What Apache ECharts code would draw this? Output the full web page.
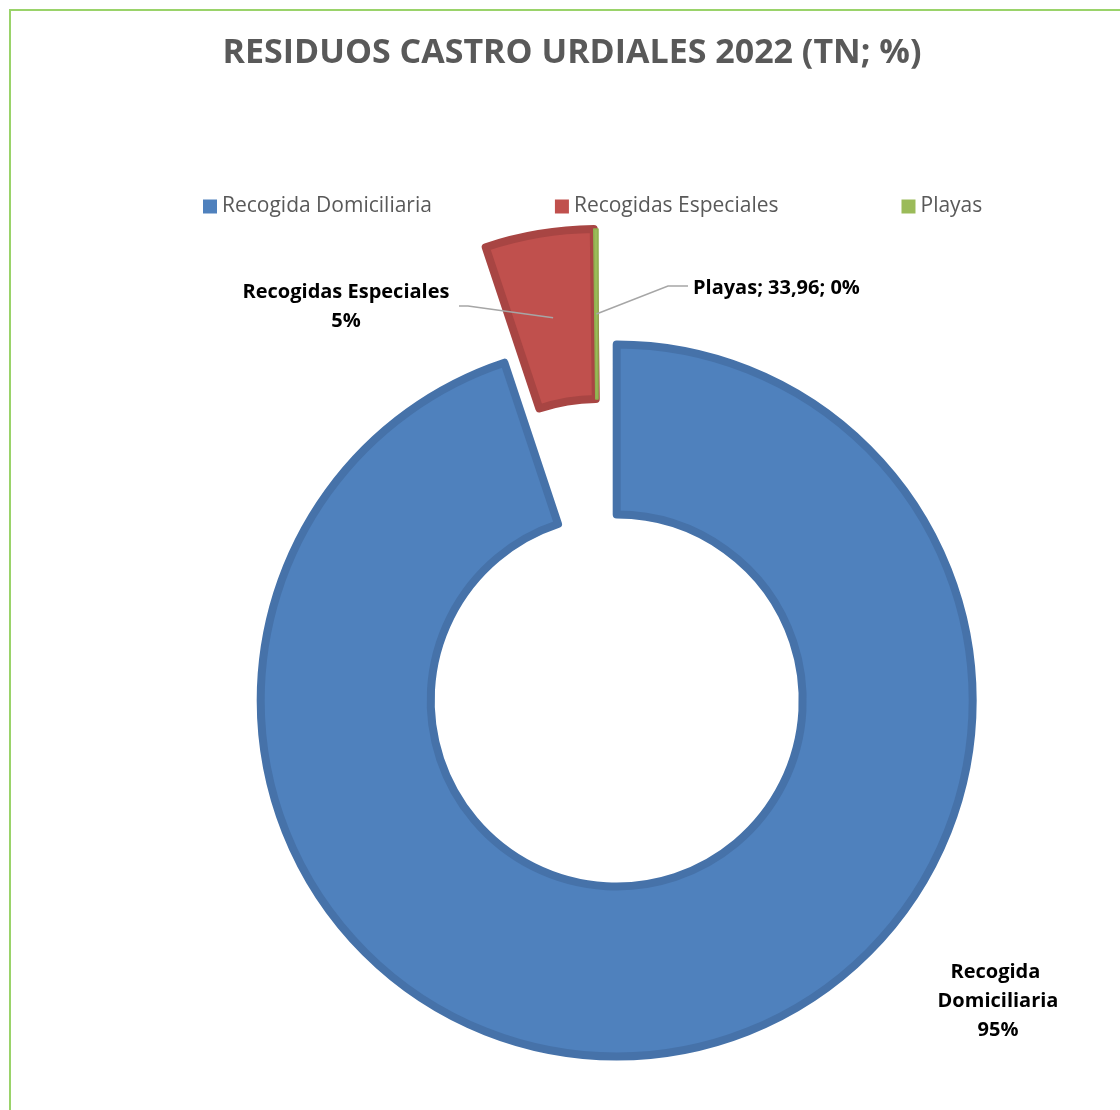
<!DOCTYPE html>
<html>
<head>
<meta charset="utf-8">
<script src="https://cdn.jsdelivr.net/npm/echarts@6/dist/echarts.min.js"></script>
<style>
  html, body { margin: 0; padding: 0; background: #ffffff; }
  #frame { position: absolute; left: 9px; top: 9px; width: 1120px; height: 1110px;
           border-left: 2px solid #9ad36a; border-top: 2px solid #9ad36a; }
  #chart { position: absolute; left: 0; top: 0; width: 1120px; height: 1110px; }
</style>
</head>
<body>
<div id="frame"></div>
<div id="chart"></div>
<script>
// ---- data ----
const categories = ['Recogida Domiciliaria', 'Recogidas Especiales', 'Playas'];
const values = [16980, 880, 33.96];
const fillColors = ['#4f81bd', '#c0504d', '#9bbb59'];
const borderColors = ['#4672a9', '#a84543', '#8fb04f'];
const titleText = 'RESIDUOS CASTRO URDIALES 2022 (TN; %)';

const FONT = '"Open Sans", "DejaVu Sans", sans-serif';
const CENTER = [598, 585];
const RADIUS = [186, 356];

function fmtNum(v) { return String(v).replace('.', ','); }
const total = values.reduce((a, b) => a + b, 0);

// mid point (in pixels) of slice i, from the data, for leader-line anchors
function sliceMid(i) {
  let before = 0;
  for (let k = 0; k < i; k++) before += values[k];
  const midFrac = (before + values[i] / 2) / total;
  const a = midFrac * 2 * Math.PI; // clockwise from 12 o'clock
  const r = (RADIUS[0] + RADIUS[1]) / 2;
  return [CENTER[0] + r * Math.sin(a), CENTER[1] - r * Math.cos(a)];
}

const chart = echarts.init(document.getElementById('chart'), null, { renderer: 'canvas' });

// slices (first slice exploded)
const sliceData = categories.map((name, i) => ({
  name: name,
  value: values[i],
  selected: i === 0,
  itemStyle: { color: fillColors[i], borderColor: borderColors[i], borderWidth: i === 2 ? 1.5 : 8 }
}));

// same data, used for the data labels drawn above the slices
const labelData = categories.map((name, i) => ({
  name: name,
  value: values[i],
  label: i === 0 ? { width: 140, overflow: 'break' } : {},
  labelLine: { show: i !== 0 }
}));

const LABEL_STYLE = { fontFamily: FONT, fontSize: 20, fontWeight: 'bold', color: '#000000', lineHeight: 29 };

chart.setOption({
  animation: false,
  backgroundColor: 'transparent',
  title: {
    text: titleText,
    left: 572,
    top: 36,
    textAlign: 'center',
    padding: 0,
    textStyle: { fontFamily: FONT, fontSize: 34, fontWeight: 'bold', color: '#595959' }
  },
  legend: {
    data: categories,
    left: 203,
    top: 196,
    padding: 0,
    icon: 'rect',
    itemWidth: 14,
    itemHeight: 14,
    itemGap: 123,
    selectedMode: false,
    itemStyle: { borderWidth: 0 },
    textStyle: { fontFamily: FONT, fontSize: 21, color: '#595959' }
  },
  series: [{
    type: 'pie',
    z: 2,
    center: CENTER,
    radius: RADIUS,
    startAngle: 90,
    clockwise: true,
    selectedMode: 'single',
    selectedOffset: 117,
    avoidLabelOverlap: false,
    padAngle: 0,
    emphasis: { disabled: true },
    label: { show: false },
    labelLine: { show: false },
    data: sliceData
  }, {
    type: 'pie',
    z: 4,
    silent: true,
    legendHoverLink: false,
    center: CENTER,
    radius: RADIUS,
    startAngle: 90,
    clockwise: true,
    selectedMode: false,
    avoidLabelOverlap: false,
    padAngle: 0,
    emphasis: { disabled: true },
    itemStyle: { color: 'rgba(0,0,0,0)', borderWidth: 0 },
    data: labelData,
    label: Object.assign({
      show: true,
      position: 'outside',
      align: 'center',
      formatter: function (p) {
        const pct = Math.round(p.percent) + '%';
        if (p.dataIndex === 2) return p.name + '; ' + fmtNum(p.value) + '; ' + pct;
        return p.name + '\n' + pct;
      }
    }, LABEL_STYLE),
    labelLine: {
      show: true,
      lineStyle: { color: '#a6a6a6', width: 1.5 }
    },
    labelLayout: function (params) {
      const i = params.dataIndex;
      const m = sliceMid(i);
      if (i === 0) {
        return { x: 998, y: 1001, align: 'center', verticalAlign: 'middle' };
      }
      if (i === 1) {
        return {
          x: 346, y: 307, align: 'center', verticalAlign: 'middle',
          labelLinePoints: [m, [468, 306], [459, 306]]
        };
      }
      return {
        x: 693, y: 288, align: 'left', verticalAlign: 'middle',
        labelLinePoints: [m, [668, 286], [688, 286]]
      };
    }
  }]
});
</script>
</body>
</html>
